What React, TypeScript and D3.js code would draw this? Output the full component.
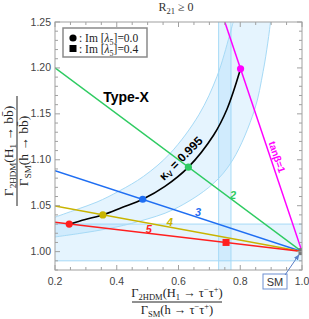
import React from 'react'
import * as d3 from 'd3'

const W = 309
const H = 319
const margin = { left: 55, right: 7, top: 22, bottom: 49 }

// axis ticks
const xTicks = [0.2, 0.4, 0.6, 0.8, 1.0]
const yTicks = [1.0, 1.05, 1.1, 1.15, 1.2, 1.25]

// shaded bands
const hBand = [0.99, 1.03]
const vBand = [0.73, 0.77]

// kappa_V = 0.993 / 0.997 edges of the curved band (x = tau ratio, y = b ratio)
const bandUpper: [number, number][] = [
    [0.2, 1.0375], [0.271, 1.046], [0.336, 1.054], [0.408, 1.066], [0.487, 1.082],
    [0.573, 1.107], [0.666, 1.149], [0.725, 1.191], [0.765, 1.235], [0.777, 1.25],
]
const bandLower: [number, number][] = [
    [0.2, 1.016], [0.284, 1.02], [0.372, 1.025], [0.473, 1.033], [0.585, 1.046],
    [0.709, 1.073], [0.776, 1.1], [0.846, 1.154], [0.874, 1.196], [0.889, 1.227], [0.898, 1.25],
]

// kappa_V = 0.995 curve
const kappaCurve: [number, number][] = [
    [0.246, 1.030], [0.298, 1.035], [0.355, 1.040], [0.417, 1.048], [0.484, 1.057],
    [0.556, 1.071], [0.632, 1.092], [0.714, 1.127], [0.757, 1.155], [0.801, 1.199],
]

// tan(beta) lines, each running to the SM point
const tanBeta = [1, 2, 3, 4, 5]
const lineStart: [number, number][] = [[0.75, 1.25], [0.2, 1.2], [0.2, 1.088], [0.2, 1.0496], [0.2, 1.032]]
const smPoint: [number, number] = [1.0, 1.0]

// markers
const dotsIm0: [number, number][] = [[0.801, 1.199], [0.632, 1.092], [0.484, 1.057], [0.355, 1.040], [0.246, 1.030]]
const squaresIm04: [number, number][] = [[0.754, 1.010]]

// number labels for tan(beta) = 2..5
const numLabels = ['2', '3', '4', '5']
const numLabelAt: [number, number][] = [[0.777, 1.062], [0.663, 1.043], [0.572, 1.032], [0.504, 1.025]]

const lineColors = ['#ff00ff', '#2fcb62', '#1f6ef2', '#c8b400', '#ff1f1f']

const sx = d3.scaleLinear().domain([0.2, 1.0]).range([margin.left, W - margin.right])
const sy = d3.scaleLinear().domain([0.98, 1.25]).range([H - margin.bottom, margin.top])

const sans = '"Liberation Sans", Arial, sans-serif'
const serif = '"Liberation Serif", "Times New Roman", serif'
const bandFill = 'rgba(135, 206, 250, 0.22)'
const bandEdge = '#a6daf6'
const frame = '#a0a0a0'

const App = () => {
    const line = d3.line<[number, number]>().x(d => sx(d[0])).y(d => sy(d[1]))
    const smooth = d3.line<[number, number]>().x(d => sx(d[0])).y(d => sy(d[1])).curve(d3.curveCatmullRom)

    const x0 = sx.range()[0], x1 = sx.range()[1]
    const y0 = sy.range()[1], y1 = sy.range()[0]

    const bandPoly = smooth(bandUpper)! + 'L' + smooth([...bandLower].reverse())!.slice(1) + 'Z'

    const minorX = d3.range(0.2, 1.0001, 0.05)
    const minorY = d3.range(0.98, 1.2501, 0.01)

    const kMid: [number, number] = [0.608, 1.084]

    return (
        <svg width={W} height={H} style={{ position: 'absolute', left: 0, top: 0, background: '#fff' }}>
            <defs>
                <clipPath id="plot">
                    <rect x={x0} y={y0} width={x1 - x0} height={y1 - y0} />
                </clipPath>
                <marker id="arr" viewBox="0 0 10 10" refX="9" refY="5" markerWidth="6" markerHeight="6" orient="auto">
                    <path d="M0,1 L10,5 L0,9 Z" fill="#5a7fc6" />
                </marker>
            </defs>

            {/* title */}
            <text x={176} y={11} textAnchor="middle" fontFamily={serif} fontSize={12} fill="#333">
                R<tspan fontSize={8.5} dy={3}>21</tspan><tspan dy={-3}> ≥ 0</tspan>
            </text>

            <g clipPath="url(#plot)">
                {/* horizontal band */}
                <rect x={x0} width={x1 - x0} y={sy(hBand[1])} height={sy(hBand[0]) - sy(hBand[1])}
                    fill={bandFill} />
                <line x1={x0} x2={x1} y1={sy(hBand[1])} y2={sy(hBand[1])} stroke={bandEdge} />
                <line x1={x0} x2={x1} y1={sy(hBand[0])} y2={sy(hBand[0])} stroke={bandEdge} />
                {/* vertical band */}
                <rect x={sx(vBand[0])} width={sx(vBand[1]) - sx(vBand[0])} y={y0} height={y1 - y0}
                    fill={bandFill} />
                <line x1={sx(vBand[0])} x2={sx(vBand[0])} y1={y0} y2={y1} stroke={bandEdge} />
                <line x1={sx(vBand[1])} x2={sx(vBand[1])} y1={y0} y2={y1} stroke={bandEdge} />
                {/* curved kappa band */}
                <path d={bandPoly} fill={bandFill} />
                <path d={smooth(bandUpper)!} fill="none" stroke={bandEdge} />
                <path d={smooth(bandLower)!} fill="none" stroke={bandEdge} />

                {/* tan beta lines */}
                {tanBeta.map((tb, i) => (
                    <path key={tb} d={line([lineStart[i], smPoint])!} stroke={lineColors[i]} strokeWidth={1.5} fill="none" />
                ))}
                <path d={smooth(kappaCurve)!} stroke="#000" strokeWidth={1.6} fill="none" />

                {dotsIm0.map((d, i) => (
                    <circle key={i} cx={sx(d[0])} cy={sy(d[1])} r={3.6} fill={lineColors[i]} />
                ))}
                {squaresIm04.map((d, i) => (
                    <rect key={i} x={sx(d[0]) - 3.5} y={sy(d[1]) - 3.5} width={7} height={7} fill={lineColors[4]} />
                ))}
                <rect x={sx(smPoint[0]) - 3.5} y={sy(smPoint[1]) - 3.5} width={7} height={7} fill="#777" />
            </g>

            {/* line labels */}
            {numLabels.map((t, i) => (
                <text key={t} x={sx(numLabelAt[i][0])} y={sy(numLabelAt[i][1])} textAnchor="middle" dominantBaseline="central"
                    fontFamily={sans} fontSize={11} fontWeight="bold" fontStyle="italic" fill={lineColors[i + 1]}>{t}</text>
            ))}
            <text transform={`translate(${sx(0.919)},${sy(1.103)}) rotate(71)`} textAnchor="middle" dominantBaseline="central"
                fontFamily={sans} fontSize={10} fontWeight="bold" fill={lineColors[0]}>tanβ=1</text>
            <text transform={`translate(${sx(kMid[0]) + 0},${sy(kMid[1]) - 16}) rotate(-45)`} textAnchor="middle" dominantBaseline="central"
                fontFamily={sans} fontSize={12} fontWeight="bold" fill="#000">
                κ<tspan fontSize={8} dy={3}>V</tspan><tspan dy={-3}> = 0.995</tspan>
            </text>
            <text x={126} y={102} textAnchor="middle" fontFamily={sans} fontSize={14} fontWeight="bold" fill="#000">Type-X</text>

            {/* legend */}
            <rect x={63} y={28} width={84} height={29} fill="#fff" stroke="#8a8a8a" strokeWidth={1.5} />
            <circle cx={73} cy={38} r={3.6} fill="#000" />
            <text x={79} y={42} fontFamily={serif} fontSize={11.5} fill="#222">
                : Im [<tspan fontStyle="italic">λ</tspan><tspan fontSize={8} dy={2.5}>5</tspan><tspan dy={-2.5}>]=0.0</tspan>
            </text>
            <rect x={69.5} y={45} width={7} height={7} fill="#000" />
            <text x={79} y={53} fontFamily={serif} fontSize={11.5} fill="#222">
                : Im [<tspan fontStyle="italic">λ</tspan><tspan fontSize={8} dy={2.5}>5</tspan><tspan dy={-2.5}>]=0.4</tspan>
            </text>

            {/* frame and ticks */}
            <rect x={x0} y={y0} width={x1 - x0} height={y1 - y0} fill="none" stroke={frame} />
            {minorX.map((v, i) => {
                const major = xTicks.some(t => Math.abs(t - v) < 1e-6)
                const len = major ? 5 : 3
                return (
                    <g key={'mx' + i} stroke={frame}>
                        <line x1={sx(v)} x2={sx(v)} y1={y1} y2={y1 - len} />
                        <line x1={sx(v)} x2={sx(v)} y1={y0} y2={y0 + len} />
                    </g>
                )
            })}
            {minorY.map((v, i) => {
                const major = yTicks.some(t => Math.abs(t - v) < 1e-6)
                const len = major ? 5 : 3
                return (
                    <g key={'my' + i} stroke={frame}>
                        <line x1={x0} x2={x0 + len} y1={sy(v)} y2={sy(v)} />
                        <line x1={x1} x2={x1 - len} y1={sy(v)} y2={sy(v)} />
                    </g>
                )
            })}
            {xTicks.map(t => (
                <text key={t} x={sx(t)} y={y1 + 15} textAnchor="middle" fontFamily={sans} fontSize={10.5} fill="#444">{t.toFixed(1)}</text>
            ))}
            {yTicks.map(t => (
                <text key={t} x={x0 - 4} y={sy(t) + 3.5} textAnchor="end" fontFamily={sans} fontSize={10.5} fill="#444">{t.toFixed(2)}</text>
            ))}

            {/* SM callout */}
            <rect x={sx(1) - 39} y={y1 + 4} width={24} height={15} fill="#fff" stroke="#6f90d2" />
            <text x={sx(1) - 27} y={y1 + 15.5} textAnchor="middle" fontFamily={sans} fontSize={11} fill="#333">SM</text>
            <line x1={sx(1) - 17} y1={y1 + 5} x2={sx(1) - 3} y2={sy(1) + 3} stroke="#5a7fc6" markerEnd="url(#arr)" />

            {/* x label */}
            <g fontFamily={serif} fontSize={12.5} fill="#222">
                <text x={177} y={297} textAnchor="middle">
                    Γ<tspan fontSize={8.5} dy={3}>2HDM</tspan><tspan dy={-3}>(H</tspan><tspan fontSize={8.5} dy={3}>1</tspan><tspan dy={-3}> → τ</tspan><tspan fontSize={8.5} dy={-5}>−</tspan><tspan dy={5}>τ</tspan><tspan fontSize={8.5} dy={-5}>+</tspan><tspan dy={5}>)</tspan>
                </text>
                <line x1={132} x2={222} y1={302} y2={302} stroke="#222" />
                <text x={177} y={314} textAnchor="middle">
                    Γ<tspan fontSize={8.5} dy={3}>SM</tspan><tspan dy={-3}>(h → τ</tspan><tspan fontSize={8.5} dy={-5}>−</tspan><tspan dy={5}>τ</tspan><tspan fontSize={8.5} dy={-5}>+</tspan><tspan dy={5}>)</tspan>
                </text>
            </g>

            {/* y label */}
            <g transform="translate(17,151) rotate(-90)" fontFamily={serif} fontSize={13.5} fill="#222">
                <text x={0} y={-4} textAnchor="middle">
                    Γ<tspan fontSize={9} dy={3}>2HDM</tspan><tspan dy={-3}>(H</tspan><tspan fontSize={9} dy={3}>1</tspan><tspan dy={-3}> → b</tspan><tspan>b̄</tspan><tspan>)</tspan>
                </text>
                <line x1={-55} x2={55} y1={0} y2={0} stroke="#222" />
                <text x={0} y={11} textAnchor="middle">
                    Γ<tspan fontSize={9} dy={3}>SM</tspan><tspan dy={-3}>(h → b</tspan><tspan>b̄</tspan><tspan>)</tspan>
                </text>
            </g>
        </svg>
    )
}

export default App
